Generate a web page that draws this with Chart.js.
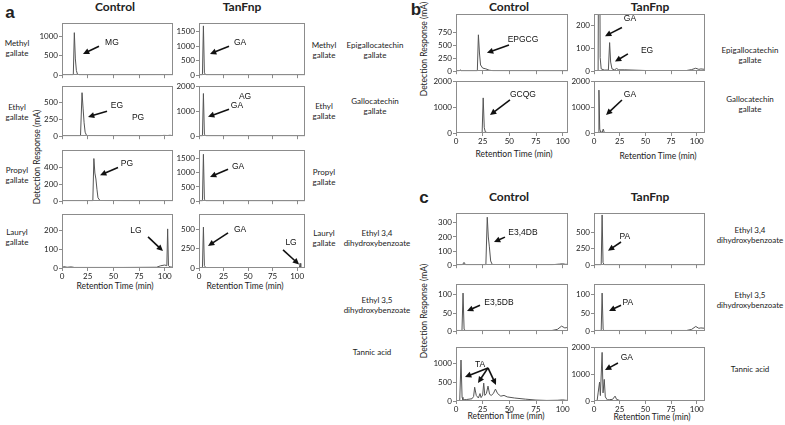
<!DOCTYPE html>
<html>
<head>
<meta charset="utf-8">
<script src="https://cdn.jsdelivr.net/npm/chart.js@4.4.1/dist/chart.umd.min.js"></script>
<style>
  body { margin: 0; width: 785px; height: 425px; position: relative; background: #fff; overflow: hidden; font-family: Lato, sans-serif; color: #222; }
  canvas { position: absolute; }
  .t { position: absolute; white-space: nowrap; transform: translate(-50%, -50%); text-align: center; line-height: 1.3; font-size: 8px; }
  .h { font-weight: bold; font-size: 12px; }
  .p { font-family: "Liberation Sans", Arial, sans-serif; font-weight: bold; font-size: 17px; }
  .v { transform: translate(-50%, -50%) rotate(-90deg); font-size: 8.5px; }
  .x { font-size: 8.5px; }
</style>
</head>
<body>

<div class="t p" style="left:10px;top:13px">a</div>
<div class="t p" style="left:416px;top:10px">b</div>
<div class="t p" style="left:424px;top:198px">c</div>

<div class="t h" style="left:115px;top:7px">Control</div>
<div class="t h" style="left:242px;top:7px">TanFnp</div>
<div class="t h" style="left:509px;top:7px">Control</div>
<div class="t h" style="left:650px;top:7px">TanFnp</div>
<div class="t h" style="left:509px;top:197px">Control</div>
<div class="t h" style="left:650px;top:197px">TanFnp</div>

<div class="t" style="left:17px;top:48px">Methyl<br>gallate</div>
<div class="t" style="left:17px;top:112px">Ethyl<br>gallate</div>
<div class="t" style="left:17px;top:175px">Propyl<br>gallate</div>
<div class="t" style="left:17px;top:237px">Lauryl<br>gallate</div>

<div class="t" style="left:324px;top:50px">Methyl<br>gallate</div>
<div class="t" style="left:324px;top:111px">Ethyl<br>gallate</div>
<div class="t" style="left:324px;top:177px">Propyl<br>gallate</div>
<div class="t" style="left:324px;top:238px">Lauryl<br>gallate</div>

<div class="t" style="left:375px;top:50px">Epigallocatechin<br>gallate</div>
<div class="t" style="left:375px;top:106px">Gallocatechin<br>gallate</div>
<div class="t" style="left:377px;top:238px">Ethyl 3,4<br>dihydroxybenzoate</div>
<div class="t" style="left:377px;top:305px">Ethyl 3,5<br>dihydroxybenzoate</div>
<div class="t" style="left:372px;top:352px">Tannic acid</div>

<div class="t" style="left:750px;top:55px">Epigallocatechin<br>gallate</div>
<div class="t" style="left:750px;top:104px">Gallocatechin<br>gallate</div>
<div class="t" style="left:750px;top:235px">Ethyl 3,4<br>dihydroxybenzoate</div>
<div class="t" style="left:750px;top:300px">Ethyl 3,5<br>dihydroxybenzoate</div>
<div class="t" style="left:750px;top:369px">Tannic acid</div>

<div class="t v" style="left:38px;top:157px">Detection Response (mA)</div>
<div class="t v" style="left:425px;top:49px">Detection Response (mA)</div>
<div class="t v" style="left:425px;top:311px">Detection Response (mA)</div>

<div class="t x" style="left:115px;top:287px">Retention Time (min)</div>
<div class="t x" style="left:245px;top:287px">Retention Time (min)</div>
<div class="t x" style="left:514px;top:155px">Retention Time (min)</div>
<div class="t x" style="left:658px;top:157px">Retention Time (min)</div>
<div class="t x" style="left:506px;top:417px">Retention Time (min)</div>
<div class="t x" style="left:652px;top:418px">Retention Time (min)</div>

<script>
// retention time axis
const timeTicks = [0, 25, 50, 75, 100];

// panel a, control: [min, mA]
const aControlMethyl = [[0,8],[11,8],[12,1100],[13,420],[14,120],[15,30],[17,8],[40,6],[80,6],[108,8]];
const aControlEthyl = [[0,5],[18,5],[19.5,650],[20.5,420],[21.5,200],[22.5,60],[24,8],[60,5],[95,5],[99,12],[103,10],[105,14],[108,8]];
const aControlPropyl = [[0,5],[30,5],[31,500],[32,330],[33,260],[34,140],[35,40],[37,8],[60,5],[108,5]];
const aControlLauryl = [[0,3],[2,7],[5,4],[9,6],[12,3],[60,3],[92,4],[96,12],[100,16],[102,12],[102.8,210],[103.6,12],[105,6],[108,4]];

// panel a, TanFnp
const aTanMethyl = [[0,5],[3.5,5],[4.5,1700],[5.5,80],[7,10],[108,8]];
const aTanEthyl = [[0,5],[3.5,5],[4.5,1700],[5.5,80],[7,10],[108,8]];
const aTanPropyl = [[0,5],[3.5,5],[4.5,1650],[5.5,70],[7,10],[108,8]];
const aTanLauryl = [[0,3],[3.5,3],[4.5,530],[5.5,30],[7,5],[100,4],[102.3,6],[103,60],[103.7,6],[108,4]];

// panel b
const bControlEpi = [[0,5],[3,5],[4,25],[5,5],[20,5],[21,700],[22,350],[23,120],[25,60],[28,45],[31,20],[35,8],[106,5]];
const bControlGallo = [[0,5],[24.5,5],[25.5,1350],[26.5,200],[27.5,40],[30,5],[106,5]];
const bTanEpi = [[0,3],[4,3],[5,1200],[6,60],[7,10],[10,5],[14,5],[15.2,125],[16.2,40],[17.5,10],[20,6],[22,12],[24,6],[30,6],[50,3],[90,3],[95,7],[99,13],[102,8],[104,10],[108,8]];
const bTanGallo = [[0,5],[4,5],[4.8,1650],[5.6,150],[6.5,40],[8,30],[9,150],[10,20],[12,5],[108,5]];

// panel c
const cControlE34 = [[0,2],[6,3],[7.5,20],[9,3],[28,3],[29.3,340],[30.3,200],[31.3,130],[32.5,30],[34,5],[90,3],[97,8],[100,10],[103,6],[106,8]];
const cTanE34 = [[0,3],[7,3],[7.9,770],[8.8,40],[10,5],[108,4]];
const cControlE35 = [[0,2],[5.6,2],[6.6,105],[7.6,5],[9,2],[90,2],[95,5],[99,14],[102,9],[104,10],[106,8]];
const cTanE35 = [[0,2],[7,2],[7.9,105],[8.9,5],[10,2],[90,2],[95,5],[99,13],[102,8],[104,9],[108,8]];
const cControlTannic = [[0,10],[3.5,10],[4.7,1100],[5.7,100],[6.5,30],[10,40],[15,60],[16.5,120],[17.5,370],[19,150],[21,80],[22.5,200],[23.5,90],[25,160],[26,480],[27,150],[28.5,200],[30,400],[31.5,180],[33,150],[35,200],[37,320],[39,200],[42,130],[45,150],[48,110],[55,80],[65,50],[75,25],[85,15],[95,20],[100,30],[103,20],[106,15]];
const cTanTannic = [[0,5],[3,5],[4,300],[5.4,700],[6.2,200],[7.9,1800],[8.8,300],[10,800],[11,150],[13,40],[15,50],[18,60],[20.5,180],[22,60],[25,20],[30,10],[60,5],[95,5],[100,15],[103,5],[108,5]];

// y tick labels
const ticks500 = [0, 500, 1000];
const ticks250 = [0, 250, 500];
const ticks200 = [0, 200, 400];
const ticks100 = [0, 100, 200];
const ticks1500 = [0, 500, 1000, 1500];
const ticks2000 = [0, 1000, 2000];
const ticks750 = [0, 250, 500, 750];
const ticksB200 = [0, 100, 200];
const ticks300 = [0, 100, 200, 300];
const ticksPA = [0, 250, 500];
const ticks50 = [0, 50, 100];

// peak names and arrows, in data units
function arrow(x0, y0, x1, y1) { return { arrow: [x0, y0, x1, y1] }; }
function label(text, x, y) { return { text, x, y }; }

const charts = [
  { data: aControlMethyl, yTicks: ticks500, yMax: 1350, xMax: 108, box: [62, 23, 173, 77],
    notes: [label('MG', 48.6, 850), arrow(36, 750, 20.4, 550)] },
  { data: aControlEthyl, yTicks: ticks250, yMax: 750, xMax: 108, box: [62, 86, 173, 138],
    notes: [label('EG', 53.5, 461), label('PG', 74, 274), arrow(43.8, 374, 25.3, 288)] },
  { data: aControlPropyl, yTicks: ticks200, yMax: 600, xMax: 108, box: [62, 150, 173, 203],
    notes: [label('PG', 63.2, 441), arrow(54.5, 396, 37, 305)] },
  { data: aControlLauryl, yTicks: ticks100, yMax: 290, xMax: 108, box: [62, 214, 173, 268], xLabels: true,
    notes: [label('LG', 72, 199), arrow(83.7, 167, 98.2, 91)] },

  { data: aTanMethyl, yTicks: ticks1500, yMax: 1800, xMax: 108, box: [199, 23, 305, 77],
    notes: [label('GA', 41.8, 1133), arrow(30.6, 1000, 11.2, 733)] },
  { data: aTanEthyl, yTicks: ticks2000, yMax: 2000, xMax: 108, box: [199, 86, 305, 138],
    notes: [label('AG', 46.9, 1578), label('GA', 38.7, 1232), arrow(30.6, 1078, 9.2, 770)] },
  { data: aTanPropyl, yTicks: ticks1500, yMax: 1800, xMax: 108, box: [199, 150, 305, 203],
    notes: [label('GA', 39.8, 1224), arrow(29.6, 1122, 11.2, 850)] },
  { data: aTanLauryl, yTicks: ticks250, yMax: 700, xMax: 108, box: [199, 214, 305, 268], xLabels: true,
    notes: [label('GA', 41.8, 494), arrow(29.6, 455, 9.2, 286), label('LG', 93.8, 325), arrow(85.6, 234, 102, 45)] },

  { data: bControlEpi, yTicks: ticks750, yMax: 1100, xMax: 105, box: [456, 14, 568, 73],
    notes: [label('EPGCG', 62.8, 614), arrow(49.7, 502, 29, 353)] },
  { data: bControlGallo, yTicks: ticks2000, yMax: 2000, xMax: 105, box: [456, 81, 568, 133], xLabels: true,
    notes: [label('GCQG', 62.8, 1463), arrow(50.6, 1270, 31.9, 693)] },
  { data: bTanEpi, yTicks: ticksB200, yMax: 250, xMax: 108, box: [594, 14, 705, 73],
    notes: [label('GA', 35, 229), arrow(27.2, 191, 10.7, 153), label('EG', 51.6, 89), arrow(33, 76, 20.4, 42)] },
  { data: bTanGallo, yTicks: ticks2000, yMax: 2000, xMax: 108, box: [594, 81, 705, 133], xLabels: true,
    notes: [label('GA', 35, 1463), arrow(27.2, 1270, 11.7, 693)] },

  { data: cControlE34, yTicks: ticks300, yMax: 370, xMax: 105, box: [456, 213, 568, 267],
    notes: [label('E3,4DB', 62.8, 233), arrow(45.9, 199, 35.6, 164)] },
  { data: cControlE35, yTicks: ticks50, yMax: 130, xMax: 105, box: [456, 284, 568, 333],
    notes: [label('E3,5DB', 40.3, 79.5), arrow(22.5, 71.5, 10.3, 55.6)] },
  { data: cControlTannic, yTicks: ticks500, yMax: 1450, xMax: 105, box: [456, 347, 568, 401], xLabels: true,
    notes: [label('TA', 22.5, 968), arrow(30, 888, 8.4, 646), arrow(30, 888, 20.6, 484), arrow(30, 888, 37.5, 430)] },

  { data: cTanE34, yTicks: ticksPA, yMax: 800, xMax: 108, box: [594, 213, 705, 267],
    notes: [label('PA', 30, 444), arrow(26.3, 355, 13.6, 222)] },
  { data: cTanE35, yTicks: ticks50, yMax: 130, xMax: 108, box: [594, 284, 705, 333],
    notes: [label('PA', 33, 79.5), arrow(26.3, 71.5, 14.6, 55.6)] },
  { data: cTanTannic, yTicks: ticks2000, yMax: 2000, xMax: 108, box: [594, 347, 705, 401], xLabels: true,
    notes: [label('GA', 32, 1591), arrow(23.3, 1406, 10.7, 1147)] }
];

// box round the plot, then peak names and arrows on top
const frameAndNotes = {
  id: 'frameAndNotes',
  afterDatasetsDraw(chart, args, opts) {
    const { ctx, chartArea: a, scales: { x, y } } = chart;
    ctx.save();
    ctx.strokeStyle = '#8c8c8c';
    ctx.lineWidth = 1;
    ctx.strokeRect(Math.round(a.left) + 0.5, Math.round(a.top) + 0.5, Math.round(a.width) - 1, Math.round(a.height) - 1);

    ctx.fillStyle = '#111';
    ctx.strokeStyle = '#111';
    ctx.font = '8.5px "Liberation Sans", Arial, sans-serif';
    ctx.textAlign = 'center';
    ctx.textBaseline = 'middle';
    (opts.notes || []).forEach(n => {
      if (n.text) {
        ctx.fillText(n.text, x.getPixelForValue(n.x), y.getPixelForValue(n.y));
        return;
      }
      const x0 = x.getPixelForValue(n.arrow[0]), y0 = y.getPixelForValue(n.arrow[1]);
      const x1 = x.getPixelForValue(n.arrow[2]), y1 = y.getPixelForValue(n.arrow[3]);
      const ang = Math.atan2(y1 - y0, x1 - x0);
      const head = 7;
      ctx.lineWidth = 1.6;
      ctx.beginPath();
      ctx.moveTo(x0, y0);
      ctx.lineTo(x1 - Math.cos(ang) * head * 0.8, y1 - Math.sin(ang) * head * 0.8);
      ctx.stroke();
      ctx.beginPath();
      ctx.moveTo(x1, y1);
      ctx.lineTo(x1 - head * Math.cos(ang - 0.45), y1 - head * Math.sin(ang - 0.45));
      ctx.lineTo(x1 - head * Math.cos(ang + 0.45), y1 - head * Math.sin(ang + 0.45));
      ctx.closePath();
      ctx.fill();
    });
    ctx.restore();
  }
};

const tickFont = { family: 'Lato', size: 8 };
const L = 26, T = 6, R = 6;

charts.forEach(c => {
  const [x0, y0, x1, y1] = c.box;
  const B = c.xLabels ? 14 : 4;
  const cv = document.createElement('canvas');
  cv.width = x1 - x0 + L + R;
  cv.height = y1 - y0 + T + B;
  cv.style.left = (x0 - L) + 'px';
  cv.style.top = (y0 - T) + 'px';
  document.body.appendChild(cv);

  new Chart(cv, {
    type: 'line',
    data: {
      datasets: [{
        data: c.data,
        borderColor: '#555',
        borderWidth: 1,
        pointRadius: 0,
        tension: 0
      }]
    },
    options: {
      responsive: false,
      animation: false,
      layout: { padding: { top: T, right: R, left: 0, bottom: 0 } },
      plugins: { legend: { display: false }, tooltip: { enabled: false }, frameAndNotes: { notes: c.notes } },
      scales: {
        x: {
          type: 'linear', min: 0, max: c.xMax,
          afterBuildTicks: s => { s.ticks = timeTicks.map(v => ({ value: v })); },
          afterFit: s => { s.height = B; },
          border: { display: false },
          grid: { drawOnChartArea: false, tickLength: 3, color: '#8c8c8c' },
          ticks: { display: !!c.xLabels, font: tickFont, color: '#222', padding: 1, maxRotation: 0, callback: v => String(v) }
        },
        y: {
          min: 0, max: c.yMax,
          afterBuildTicks: s => { s.ticks = c.yTicks.map(v => ({ value: v })); },
          afterFit: s => { s.width = L; },
          border: { display: false },
          grid: { drawOnChartArea: false, tickLength: 3, color: '#8c8c8c' },
          ticks: { font: tickFont, color: '#222', padding: 1, callback: v => String(v) }
        }
      }
    },
    plugins: [frameAndNotes]
  });
});
</script>
</body>
</html>
